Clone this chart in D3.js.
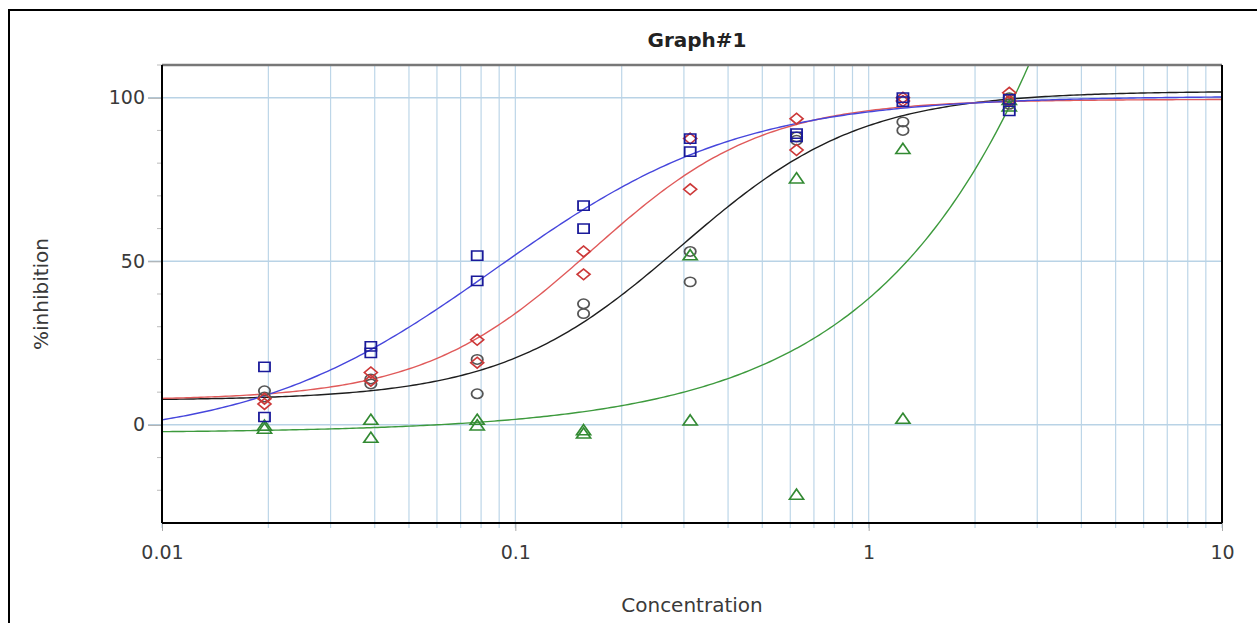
<!DOCTYPE html>
<html>
<head>
<meta charset="utf-8">
<script src="https://cdn.jsdelivr.net/npm/d3@7"></script>
<style>
  body { margin: 0; background: #fff; }
  svg { display: block; font-family: "DejaVu Sans", "Liberation Sans", Arial, sans-serif; }
</style>
</head>
<body>
<div id="chart"></div>
<script>
// concentrations (2-fold serial dilution)
const CONCENTRATIONS = [0.0195, 0.039, 0.078, 0.156, 0.3125, 0.625, 1.25, 2.5];

// replicate readings per series (%inhibition)
const BLUE_REP1 = [17.7, 24, 51.7, 67, 87.5, 89, 100, 99.5];
const BLUE_REP2 = [2.4, 22, 44, 60, 83.5, 88, 98.8, 96];
const RED_REP1 = [8, 16, 26, 53, 87.5, 93.6, 100, 101.5];
const RED_REP2 = [6.4, 13.5, 19, 46, 72, 84, 99, 99];
const BLACK_REP1 = [10.4, 14, 20, 37, 53, 88, 92.6, 100];
const BLACK_REP2 = [8.5, 12.5, 9.5, 34, 43.7, 87, 90, 98];
const GREEN_REP1 = [-0.6, 1.2, 1.2, -2, 51.5, 75, 84, 99];
const GREEN_REP2 = [-1.5, -4.3, -0.5, -3, 1, -21.7, 1.5, 97];

// 4PL fit parameters: bottom, top, ic50, hill
const BLUE_FIT = [-5, 100.5, 0.088, 1.25];
const RED_FIT = [7.5, 99.5, 0.165, 1.8];
const BLACK_FIT = [7.5, 102, 0.295, 1.7];
const GREEN_FIT = [-2.5, 2000, 47.7, 1.0];

// axis ticks
const X_TICKS = [0.01, 0.1, 1, 10];
const Y_TICKS = [0, 50, 100];

const SERIES = [
    { name: "black", reps: [BLACK_REP1, BLACK_REP2], fit: BLACK_FIT, shape: "circle", mark: "#555555", line: "#1e1e1e" },
    { name: "green", reps: [GREEN_REP1, GREEN_REP2], fit: GREEN_FIT, shape: "triangle", mark: "#338a33", line: "#3d9a3d" },
    { name: "red", reps: [RED_REP1, RED_REP2], fit: RED_FIT, shape: "diamond", mark: "#cc3838", line: "#e05a5a" },
    { name: "blue", reps: [BLUE_REP1, BLUE_REP2], fit: BLUE_FIT, shape: "square", mark: "#1a1a9a", line: "#4646dc" },
];

function fourPL(p, c) {
    return p[0] + (p[1] - p[0]) / (1 + Math.pow(p[2] / c, p[3]));
}

function drawChart() {
    const W = 1257, H = 623;
    const margin = { left: 162, top: 65, right: 35, bottom: 100 };
    const width = W - margin.left - margin.right;
    const height = H - margin.top - margin.bottom;

    const svg = d3.select("#chart").append("svg")
        .attr("width", W).attr("height", H);

    // outer frame
    svg.append("rect")
        .attr("x", 9).attr("y", 10)
        .attr("width", 1270).attr("height", 640)
        .attr("fill", "none").attr("stroke", "#000").attr("stroke-width", 2);

    // title
    svg.append("text")
        .attr("x", margin.left + width / 2 + 5).attr("y", 47)
        .attr("text-anchor", "middle")
        .attr("font-size", "20px").attr("font-weight", "bold").attr("fill", "#222")
        .text("Graph#1");

    const chart = svg.append("g")
        .attr("transform", `translate(${margin.left},${margin.top})`);

    const x = d3.scaleLog().domain([0.01, 10]).range([0, width]);
    const y = d3.scaleLinear().domain([-30, 110]).range([height, 0]);

    // vertical grid on every 1..9 multiple
    chart.append("g")
        .selectAll("line")
        .data(x.ticks())
        .enter().append("line")
        .attr("x1", d => x(d)).attr("x2", d => x(d))
        .attr("y1", 0).attr("y2", height + 5)
        .attr("stroke", "#bdd6e8").attr("stroke-width", 1.2);

    // horizontal grid
    chart.append("g")
        .selectAll("line")
        .data(Y_TICKS)
        .enter().append("line")
        .attr("x1", -14).attr("x2", width)
        .attr("y1", d => y(d)).attr("y2", d => y(d))
        .attr("stroke", "#b9d3e6").attr("stroke-width", 1.5);

    // minor y ticks every 10
    chart.append("g")
        .selectAll("line")
        .data(d3.range(-20, 111, 10).filter(v => Y_TICKS.indexOf(v) < 0))
        .enter().append("line")
        .attr("x1", -5).attr("x2", 0)
        .attr("y1", d => y(d)).attr("y2", d => y(d))
        .attr("stroke", "#bbb");

    // y axis
    const yAxis = chart.append("g")
        .call(d3.axisLeft(y).tickValues(Y_TICKS).tickSize(14).tickPadding(3));
    yAxis.attr("font-family", null).attr("font-size", 19);
    yAxis.select(".domain").remove();
    yAxis.selectAll(".tick line").attr("stroke", "#aaa");
    yAxis.selectAll(".tick text").attr("fill", "#3a3a3a");

    // x axis
    const xAxis = chart.append("g")
        .attr("transform", `translate(0,${height})`)
        .call(d3.axisBottom(x).tickValues(X_TICKS).tickFormat(d3.format("~g")).tickSize(8).tickPadding(15));
    xAxis.attr("font-family", null).attr("font-size", 19);
    xAxis.select(".domain").remove();
    xAxis.selectAll(".tick line").attr("stroke", "#aaa");
    xAxis.selectAll(".tick text").attr("fill", "#3a3a3a");

    // axis labels
    svg.append("text")
        .attr("x", margin.left + width / 2).attr("y", 612)
        .attr("text-anchor", "middle").attr("font-size", "20px").attr("fill", "#3a3a3a")
        .text("Concentration");
    svg.append("text")
        .attr("transform", `translate(48,${margin.top + height / 2}) rotate(-90)`)
        .attr("text-anchor", "middle").attr("font-size", "20px").attr("fill", "#3a3a3a")
        .text("%inhibition");

    // clip for curves
    svg.append("defs").append("clipPath").attr("id", "plot-clip")
        .append("rect").attr("width", width).attr("height", height);

    // fitted curves
    const samples = d3.range(0, 301).map(i => Math.pow(10, -2 + 3 * i / 300));
    const line = d3.line()
        .x(d => x(d[0]))
        .y(d => y(d[1]));
    const curves = chart.append("g").attr("clip-path", "url(#plot-clip)");
    SERIES.forEach(s => {
        curves.append("path")
            .datum(samples.map(c => [c, fourPL(s.fit, c)]))
            .attr("d", line)
            .attr("fill", "none")
            .attr("stroke", s.line)
            .attr("stroke-width", 1.4);
    });

    // markers (slightly wider than tall, as in the source)
    const symbolType = {
        circle: d3.symbolCircle,
        square: d3.symbolSquare,
        diamond: d3.symbolDiamond2,
        triangle: d3.symbolTriangle,
    };
    const symbolSize = { circle: 70, square: 85, diamond: 75, triangle: 60 };
    SERIES.forEach(s => {
        const pts = [];
        s.reps.forEach(rep => rep.forEach((v, i) => pts.push([CONCENTRATIONS[i], v])));
        chart.append("g")
            .selectAll("path")
            .data(pts)
            .enter().append("path")
            .attr("transform", d => `translate(${x(d[0])},${y(d[1])}) scale(1.2,1)`)
            .attr("d", d3.symbol().type(symbolType[s.shape]).size(symbolSize[s.shape]))
            .attr("fill", "none")
            .attr("stroke", s.mark)
            .attr("stroke-width", 1.5);
    });

    // plot frame: top gray, others black
    chart.append("line").attr("x1", 0).attr("x2", width).attr("y1", 0).attr("y2", 0)
        .attr("stroke", "#777").attr("stroke-width", 2.5);
    chart.append("line").attr("x1", 0).attr("x2", 0).attr("y1", 0).attr("y2", height)
        .attr("stroke", "#000").attr("stroke-width", 2);
    chart.append("line").attr("x1", width).attr("x2", width).attr("y1", 0).attr("y2", height)
        .attr("stroke", "#000").attr("stroke-width", 2);
    chart.append("line").attr("x1", 0).attr("x2", width).attr("y1", height).attr("y2", height)
        .attr("stroke", "#000").attr("stroke-width", 2);
}

window.onload = () => {
    drawChart();
};
</script>
</body>
</html>
